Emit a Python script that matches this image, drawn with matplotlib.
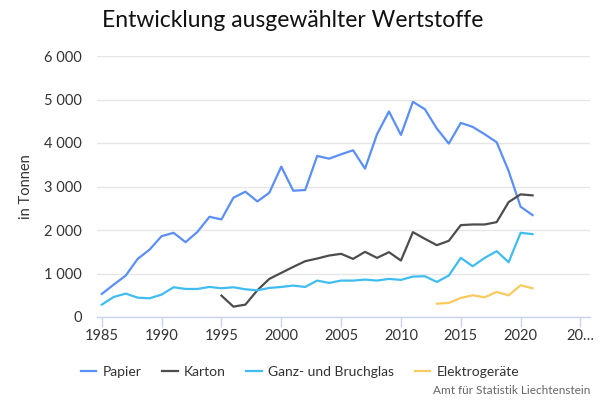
import matplotlib
matplotlib.use("Agg")
import matplotlib.pyplot as plt

plt.rcParams['font.family'] = ['Lato', 'DejaVu Sans']

years = list(range(1985, 2022))
papier = [530, 745, 952, 1336, 1551, 1859, 1935, 1720, 1959, 2304, 2243, 2742, 2880, 2657, 2857,
          3456, 2903, 2919, 3702, 3640, 3740, 3833, 3410, 4201, 4724, 4186, 4946, 4777, 4332, 3986,
          4462, 4370, 4201, 4017, 3356, 2535, 2343]
karton_years = list(range(1995, 2022))
karton = [492, 238, 284, 614, 876, 1014, 1152, 1283, 1344, 1413, 1452, 1336, 1498, 1359, 1490,
          1298, 1951, 1797, 1651, 1751, 2112, 2127, 2127, 2181, 2642, 2819, 2796]
glas = [284, 461, 538, 445, 430, 515, 684, 645, 645, 691, 660, 684, 637, 614, 668, 691, 722, 691,
        837, 783, 837, 837, 860, 837, 876, 853, 929, 937, 806, 952, 1359, 1167, 1359, 1513, 1260,
        1935, 1905]
elektro_years = list(range(2013, 2022))
elektro = [307, 323, 438, 499, 453, 576, 499, 730, 660]

series_names = ["Papier", "Karton", "Ganz- und Bruchglas", "Elektrogeräte"]
colors = ["#5b8ff5", "#4d4d4d", "#3fbdf0", "#f7cb5e"]

xticks = [1985, 1990, 1995, 2000, 2005, 2010, 2015, 2020, 2025]
xtick_labels = ["1985", "1990", "1995", "2000", "2005", "2010", "2015", "2020", "20…"]
yticks = [0, 1000, 2000, 3000, 4000, 5000, 6000]
ytick_labels = ["0", "1 000", "2 000", "3 000", "4 000", "5 000", "6 000"]

fig = plt.figure(figsize=(6, 4), dpi=100)
ax = fig.add_axes([97/600, 1-317/400, 493/600, 261/400])

ax.plot(years, papier, color=colors[0], lw=1.6, label=series_names[0], zorder=3)
ax.plot(karton_years, karton, color=colors[1], lw=1.6, label=series_names[1], zorder=3)
ax.plot(years, glas, color=colors[2], lw=1.6, label=series_names[2], zorder=3)
ax.plot(elektro_years, elektro, color=colors[3], lw=1.6, label=series_names[3], zorder=3)

ax.set_xlim(1984.6, 2025.8)
ax.set_ylim(0, 6000)
ax.set_yticks(yticks)
ax.set_yticklabels(ytick_labels)
ax.set_xticks(xticks)
ax.set_xticklabels(xtick_labels)
ax.grid(axis='y', color='#e6e6e6', lw=1)
ax.set_axisbelow(True)
for s in ['top', 'right', 'left']:
    ax.spines[s].set_visible(False)
ax.spines['bottom'].set_color('#ccd6eb')
ax.spines['bottom'].set_linewidth(1)
ax.tick_params(axis='y', length=0, pad=11, labelsize=10.5, labelcolor='#333333')
ax.tick_params(axis='x', length=7, width=1, color='#ccd6eb', pad=2, labelsize=10.5, labelcolor='#333333')
ax.set_ylabel("in Tonnen", fontsize=10.5, color='#333333', labelpad=8)

fig.text(102/600, 1-27/400, "Entwicklung ausgewählter Wertstoffe", fontsize=16.5,
         color='#111111', ha='left', va='baseline')

fig.legend(loc='center', bbox_to_anchor=(0.5, 1-372/400), ncol=4, frameon=False,
           fontsize=10, handlelength=1.1, handletextpad=0.45, columnspacing=1.5,
           labelcolor='#333333')

fig.text(590/600, 1-391/400, "Amt für Statistik Liechtenstein", fontsize=8.5,
         color='#666666', ha='right', va='center')

fig.savefig("out.png", dpi=100)
